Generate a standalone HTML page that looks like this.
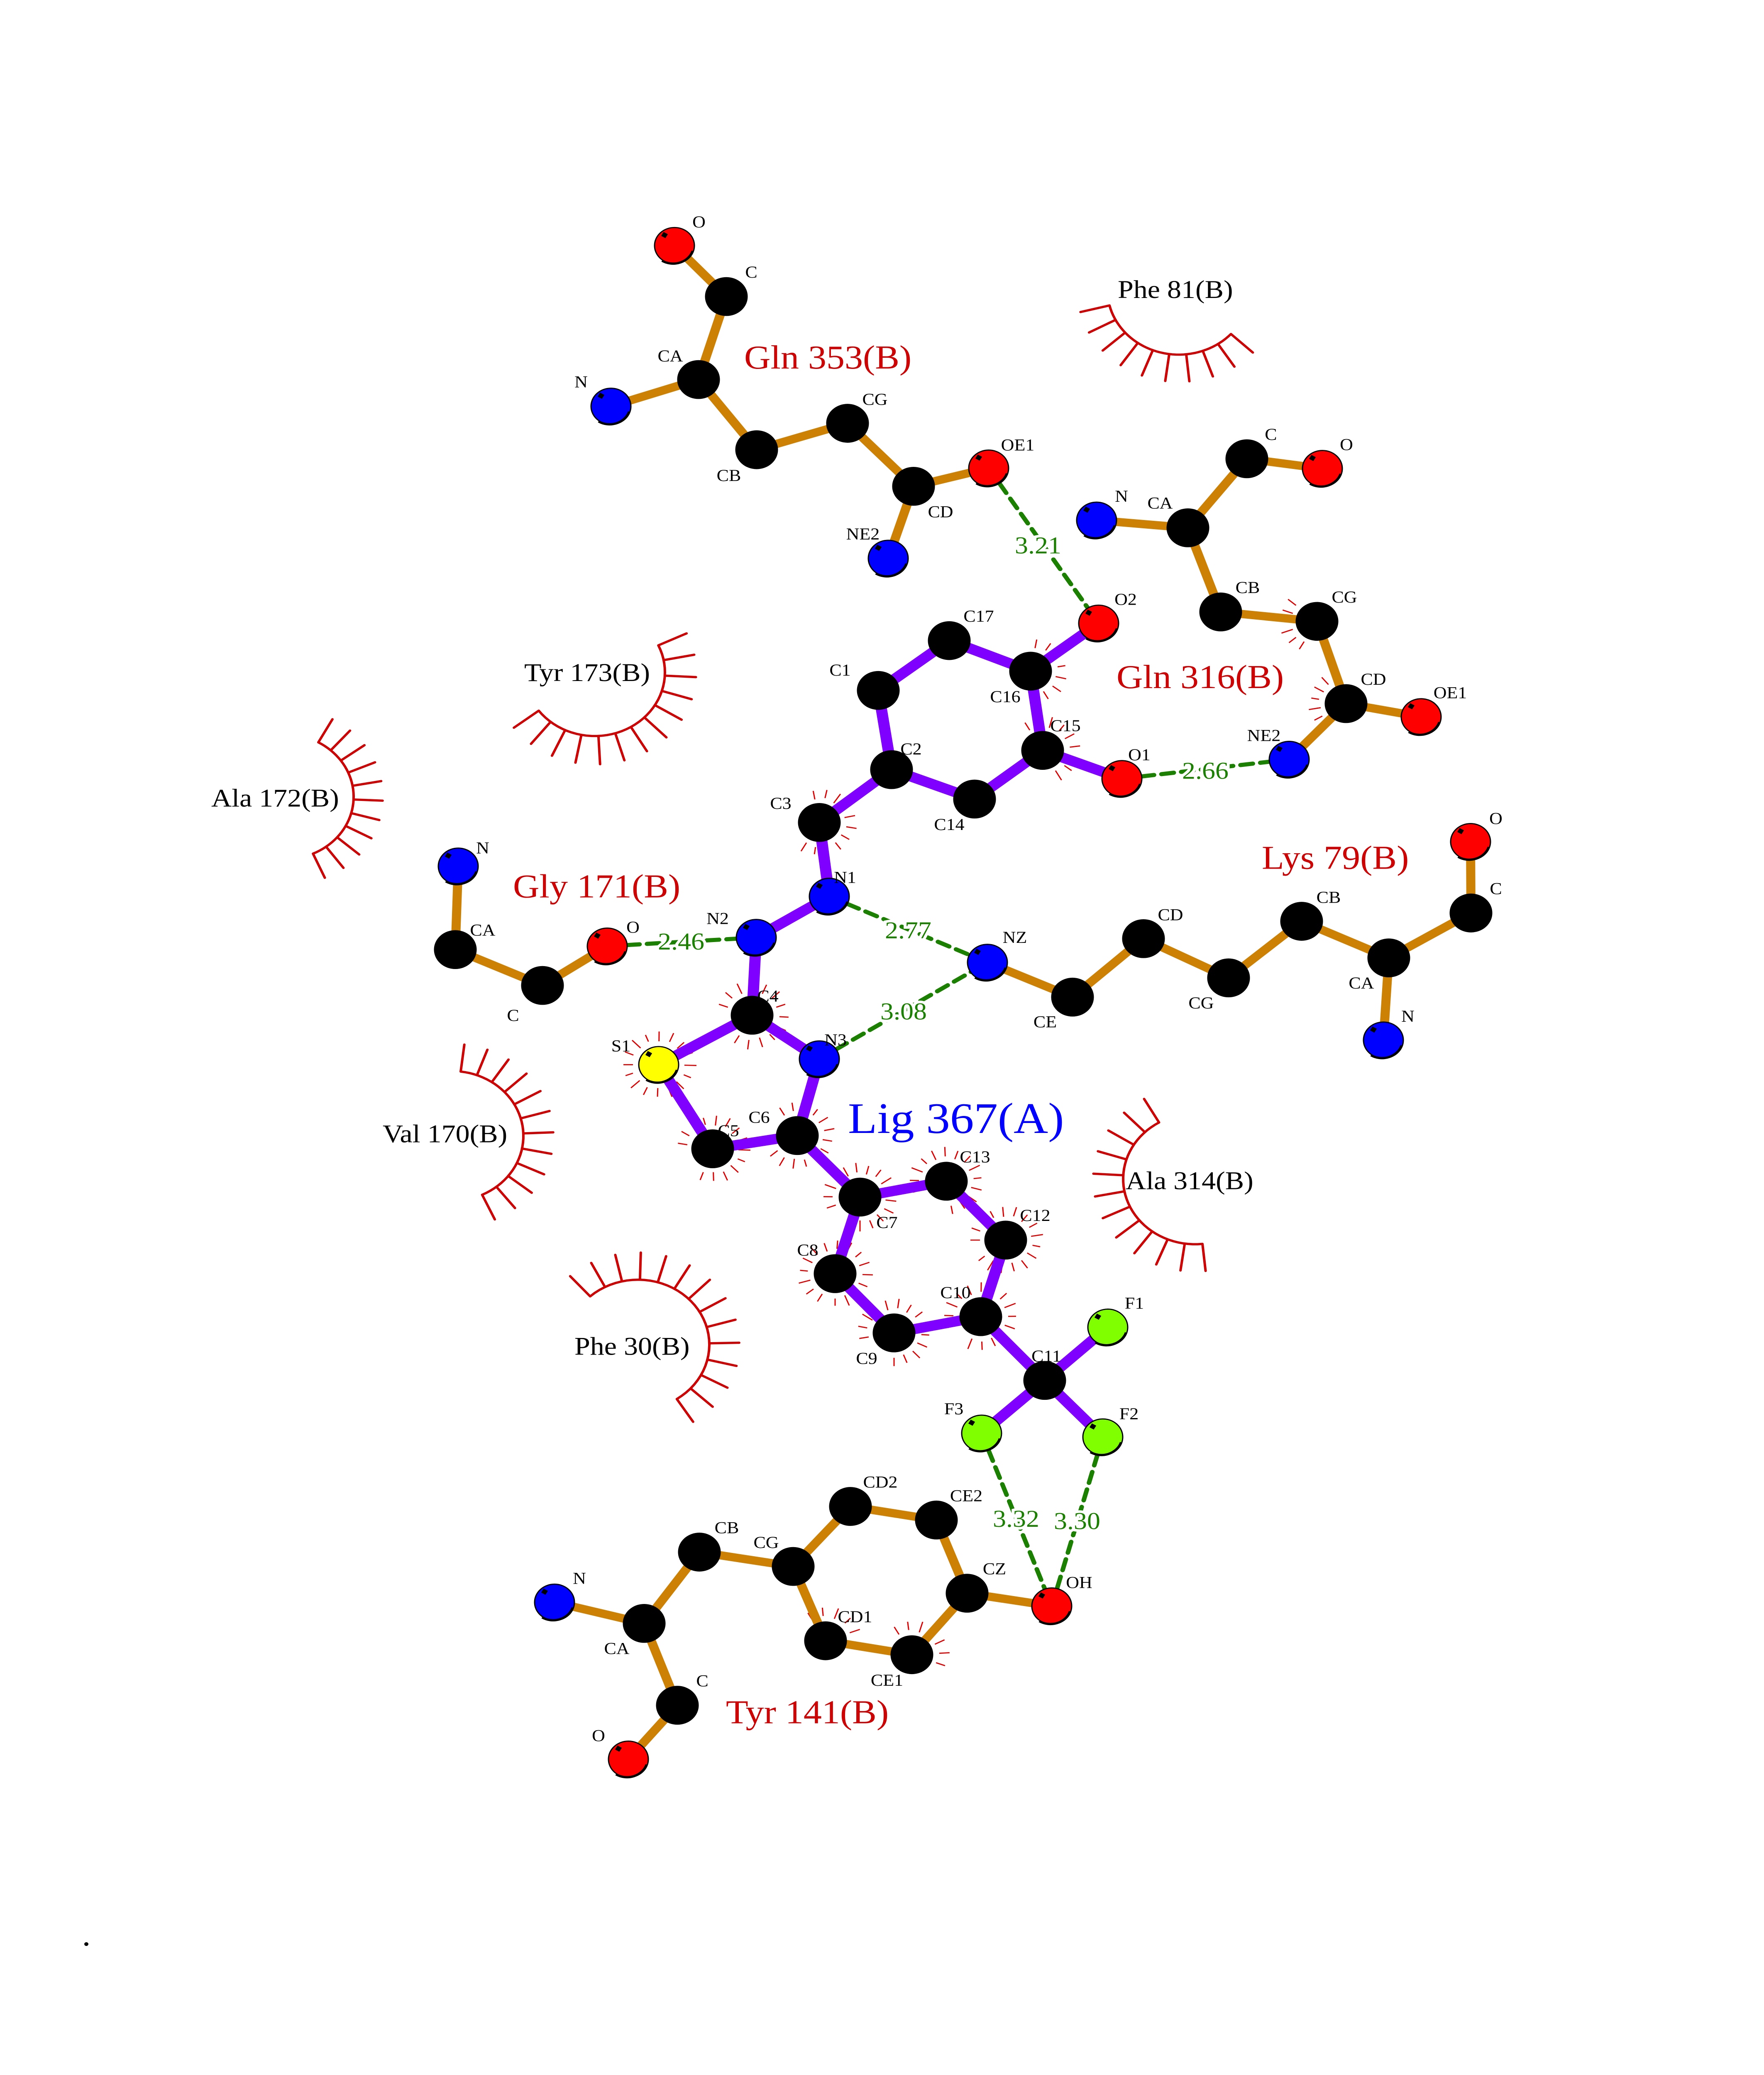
<!DOCTYPE html>
<html><head><meta charset="utf-8">
<style>
html,body{margin:0;padding:0;background:#fff;overflow:hidden;width:100%;height:100%;}
svg{display:block;width:100vw;height:100vh;}
text{font-family:"Liberation Serif",serif;}
</style></head>
<body>
<svg id="s" xmlns="http://www.w3.org/2000/svg" viewBox="0 0 4250 5500" preserveAspectRatio="none">
<rect width="4250" height="5500" fill="#fff"/>
<g id="arcs"></g>
<g id="halos"></g>
<g id="hb"></g>
<g id="bonds"></g>
<g id="atoms"></g>
<g id="labels"></g>
</svg>
<script>
var NS="http://www.w3.org/2000/svg";
function el(p,t,a,txt){var e=document.createElementNS(NS,t);for(var k in a)e.setAttribute(k,a[k]);if(txt!==undefined)e.textContent=txt;document.getElementById(p).appendChild(e);return e;}
var A={
qO:[1625,651,'r'],qC:[1750,786,'k'],qCA:[1683,1006,'k'],qN:[1472,1077,'b'],qCB:[1823,1192,'k'],qCG:[2042,1122,'k'],qCD:[2201,1289,'k'],qOE1:[2382,1241,'r'],qNE2:[2140,1480,'b'],
gN:[2642,1379,'b'],gCA:[2862,1399,'k'],gC:[3004,1216,'k'],gO:[3186,1242,'r'],gCB:[2941,1622,'k'],gCG:[3173,1647,'k'],gCD:[3243,1865,'k'],gOE1:[3424,1900,'r'],gNE2:[3106,2013,'b'],
O2:[2647,1652,'r'],C17:[2287,1698,'k'],C16:[2483,1779,'k'],C1:[2116,1830,'k'],C15:[2512,1989,'k'],O1:[2703,2064,'r'],C2:[2148,2040,'k'],C14:[2348,2118,'k'],C3:[1974,2180,'k'],N1:[1998,2376,'b'],N2:[1822,2485,'b'],C4:[1812,2691,'k'],S1:[1587,2822,'y'],N3:[1974,2807,'b'],C5:[1717,3045,'k'],C6:[1921,3010,'k'],C7:[2072,3173,'k'],C13:[2280,3131,'k'],C12:[2423,3287,'k'],C8:[2012,3376,'k'],C10:[2363,3490,'k'],C9:[2154,3533,'k'],C11:[2517,3659,'k'],F1:[2669,3518,'g'],F3:[2365,3799,'g'],F2:[2657,3809,'g'],
yN:[1104,2296,'b'],yCA:[1097,2517,'k'],yC:[1307,2612,'k'],yO:[1463,2508,'r'],
kNZ:[2379,2551,'b'],kCE:[2584,2643,'k'],kCD:[2755,2488,'k'],kCG:[2960,2592,'k'],kCB:[3136,2442,'k'],kCA:[3346,2539,'k'],kN:[3333,2757,'b'],kC:[3544,2420,'k'],kO:[3543,2231,'r'],
tN:[1336,4247,'b'],tCA:[1552,4303,'k'],tCB:[1685,4114,'k'],tCG:[1911,4152,'k'],tCD2:[2049,3993,'k'],tCE2:[2256,4029,'k'],tCZ:[2330,4223,'k'],tOH:[2534,4257,'r'],tCD1:[1989,4349,'k'],tCE1:[2197,4386,'k'],tC:[1632,4520,'k'],tO:[1514,4663,'r']
};
var orange=[["qO","qC"],["qC","qCA"],["qCA","qN"],["qCA","qCB"],["qCB","qCG"],["qCG","qCD"],["qCD","qOE1"],["qCD","qNE2"],
["gN","gCA"],["gCA","gC"],["gC","gO"],["gCA","gCB"],["gCB","gCG"],["gCG","gCD"],["gCD","gOE1"],["gCD","gNE2"],
["yN","yCA"],["yCA","yC"],["yC","yO"],
["kNZ","kCE"],["kCE","kCD"],["kCD","kCG"],["kCG","kCB"],["kCB","kCA"],["kCA","kN"],["kCA","kC"],["kC","kO"],
["tN","tCA"],["tCA","tCB"],["tCB","tCG"],["tCG","tCD2"],["tCD2","tCE2"],["tCE2","tCZ"],["tCZ","tOH"],["tCG","tCD1"],["tCD1","tCE1"],["tCE1","tCZ"],["tCA","tC"],["tC","tO"]];
var purple=[["O2","C16"],["C17","C16"],["C17","C1"],["C1","C2"],["C16","C15"],["C15","O1"],["C15","C14"],["C14","C2"],["C2","C3"],["C3","N1"],["N1","N2"],["N2","C4"],["C4","S1"],["C4","N3"],["S1","C5"],["C5","C6"],["N3","C6"],["C6","C7"],["C7","C13"],["C13","C12"],["C12","C10"],["C7","C8"],["C8","C9"],["C9","C10"],["C10","C11"],["C11","F1"],["C11","F2"],["C11","F3"]];
orange.forEach(function(b){var a=A[b[0]],c=A[b[1]];el('bonds','line',{x1:a[0],y1:a[1],x2:c[0],y2:c[1],stroke:'#cc8105','stroke-width':22});});
purple.forEach(function(b){var a=A[b[0]],c=A[b[1]];el('bonds','line',{x1:a[0],y1:a[1],x2:c[0],y2:c[1],stroke:'#8000ff','stroke-width':27});});
var col={k:'#000',r:'#ff0000',b:'#0000ff',y:'#ffff00',g:'#80ff00'};
for(var k in A){var a=A[k];var r=a[2]=='k'?50:48;
 el('atoms','circle',{cx:a[0],cy:a[1],r:r,fill:col[a[2]],stroke:'#000','stroke-width':3});
 if(a[2]!='k'){el('atoms','path',{d:'M'+(a[0]-30)+','+(a[1]+40)+' A50,50 0 0 0 '+(a[0]+44)+','+(a[1]+14),fill:'none',stroke:'#000','stroke-width':6});
 el('atoms','rect',{x:a[0]-30,y:a[1]-34,width:12,height:12,fill:'#000',transform:'rotate(30 '+(a[0]-24)+' '+(a[1]-28)+')'});}
}
var hb=[["qOE1","O2"],["O1","gNE2"],["yO","N2"],["N1","kNZ"],["N3","kNZ"],["F3","tOH"],["F2","tOH"]];
hb.forEach(function(b){var a=A[b[0]],c=A[b[1]];el('hb','line',{x1:a[0],y1:a[1],x2:c[0],y2:c[1],stroke:'#1b7f00','stroke-width':11,'stroke-dasharray':'30 18','stroke-linecap':'round'});});
function arc(cx,cy,r,a0,a1,n,len){var d='';for(var i=0;i<=40;i++){var t=(a0+(a1-a0)*i/40)*Math.PI/180;d+=(i?'L':'M')+(cx+r*Math.cos(t)).toFixed(1)+','+(cy+r*Math.sin(t)).toFixed(1);}
 el('arcs','path',{d:d,fill:'none',stroke:'#cc0000','stroke-width':6});
 for(var i=0;i<n;i++){var t=(a0+(a1-a0)*i/(n-1))*Math.PI/180;el('arcs','line',{x1:cx+r*Math.cos(t),y1:cy+r*Math.sin(t),x2:cx+(r+len)*Math.cos(t),y2:cy+(r+len)*Math.sin(t),stroke:'#cc0000','stroke-width':6,'stroke-linecap':'round'});}}
arc(2840,768,172,43,166,10,72);
arc(1433,1782,169,-25,143,13,75);
arc(687,2112,165,-61,66,11,70);
arc(1089,3011,172,-83,65,12,72);
arc(2879,3125,173,84,240,12,72);
arc(1537,3564,172,-132,57,14,72);
function halo(k,a0,a1,n){var a=A[k];for(var i=0;i<n;i++){var t=(a0+(a1-a0)*i/(n-1))*Math.PI/180;
 var r1=62+(i%2)*4,r2=85+(i%3)*3;el('halos','line',{x1:a[0]+r1*Math.cos(t),y1:a[1]+r1*Math.sin(t),x2:a[0]+r2*Math.cos(t),y2:a[1]+r2*Math.sin(t),stroke:'#dd0000','stroke-width':3});}}
halo('C16',-80,60,7);halo('C15',-120,60,9);halo('C3',-100,120,11);halo('C4',-160,120,13);halo('S1',-180,160,16);
halo('C5',-170,110,14);halo('C6',-120,140,13);halo('C7',-200,90,15);halo('C13',-200,80,14);halo('C12',-180,140,16);
halo('C8',-240,90,16);halo('C10',-200,110,15);halo('C9',-190,90,14);halo('gCG',120,220,6);halo('gCD',130,230,6);
halo('tCD1',-120,-20,5);halo('tCE1',-120,20,7);
var L=[["O",1684,588],["C",1810,721],["CA",1615,943],["N",1400,1012],["CG",2108,1058],["CB",1756,1260],["CD",2266,1356],["OE1",2452,1179],["NE2",2079,1415],
["C",3062,1151],["O",3244,1178],["N",2702,1315],["CA",2795,1333],["CB",3006,1557],["CG",3239,1582],["CD",3309,1800],["OE1",3494,1836],["NE2",3045,1949],
["O2",2712,1588],["C17",2358,1633],["C16",2422,1846],["C15",2567,1923],["O1",2745,2000],["C14",2287,2185],["C1",2024,1776],["C2",2195,1985],["C3",1881,2129],["N1",2036,2325],["N2",1729,2434],["C4",1850,2640],["S1",1496,2772],["N3",2013,2756],["C5",1755,2997],["C6",1829,2961],
["C13",2349,3066],["C7",2137,3240],["C12",2494,3221],["C8",1946,3313],["C10",2302,3426],["C9",2088,3600],["C11",2521,3594],["F1",2733,3454],["F3",2298,3734],["F2",2720,3747],
["N",1163,2247],["CA",1163,2465],["C",1236,2691],["O",1525,2457],
["NZ",2445,2484],["CE",2518,2708],["CD",2820,2424],["CG",2894,2658],["CB",3201,2378],["CA",3280,2605],["N",3392,2693],["C",3604,2355],["O",3604,2169],
["N",1396,4183],["CB",1751,4049],["CG",1846,4088],["CD2",2121,3928],["CE2",2328,3964],["CZ",2396,4158],["OH",2600,4194],["CD1",2060,4285],["CE1",2137,4453],["CA",1486,4369],["C",1692,4455],["O",1442,4600]];
L.forEach(function(l){el('labels','text',{x:l[1],y:l[2]+15,'font-size':44,'text-anchor':'middle',fill:'#000'},l[0]);});
var R=[["Gln 353(B)",1793,977],["Gln 316(B)",2690,1824],["Gly 171(B)",1236,2379],["Lys 79(B)",3040,2303],["Tyr 141(B)",1749,4568]];
R.forEach(function(l){el('labels','text',{x:l[1],y:l[2],'font-size':88,fill:'#cc0000'},l[0]);});
var H=[["Phe 81(B)",2693,790],["Tyr 173(B)",1263,1805],["Ala 172(B)",509,2138],["Val 170(B)",922,3028],["Ala 314(B)",2712,3152],["Phe 30(B)",1384,3591]];
H.forEach(function(l){el('labels','text',{x:l[1],y:l[2],'font-size':68,fill:'#000'},l[0]);});
el('labels','text',{x:2043,y:3003,'font-size':115,fill:'#0000ff'},"Lig 367(A)");
var D=[["3.21",2445,1467],["2.66",2848,2064],["2.46",1585,2517],["2.77",2132,2487],["3.08",2121,2702],["3.32",2392,4047],["3.30",2539,4053]];
D.forEach(function(l){el('labels','text',{x:l[1],y:l[2],'font-size':64,fill:'#1b7f00',stroke:'#fff','stroke-width':14,'paint-order':'stroke'},l[0]);});
el('labels','circle',{cx:208,cy:5153,r:5,fill:'#000'});
</script>
</body></html>
